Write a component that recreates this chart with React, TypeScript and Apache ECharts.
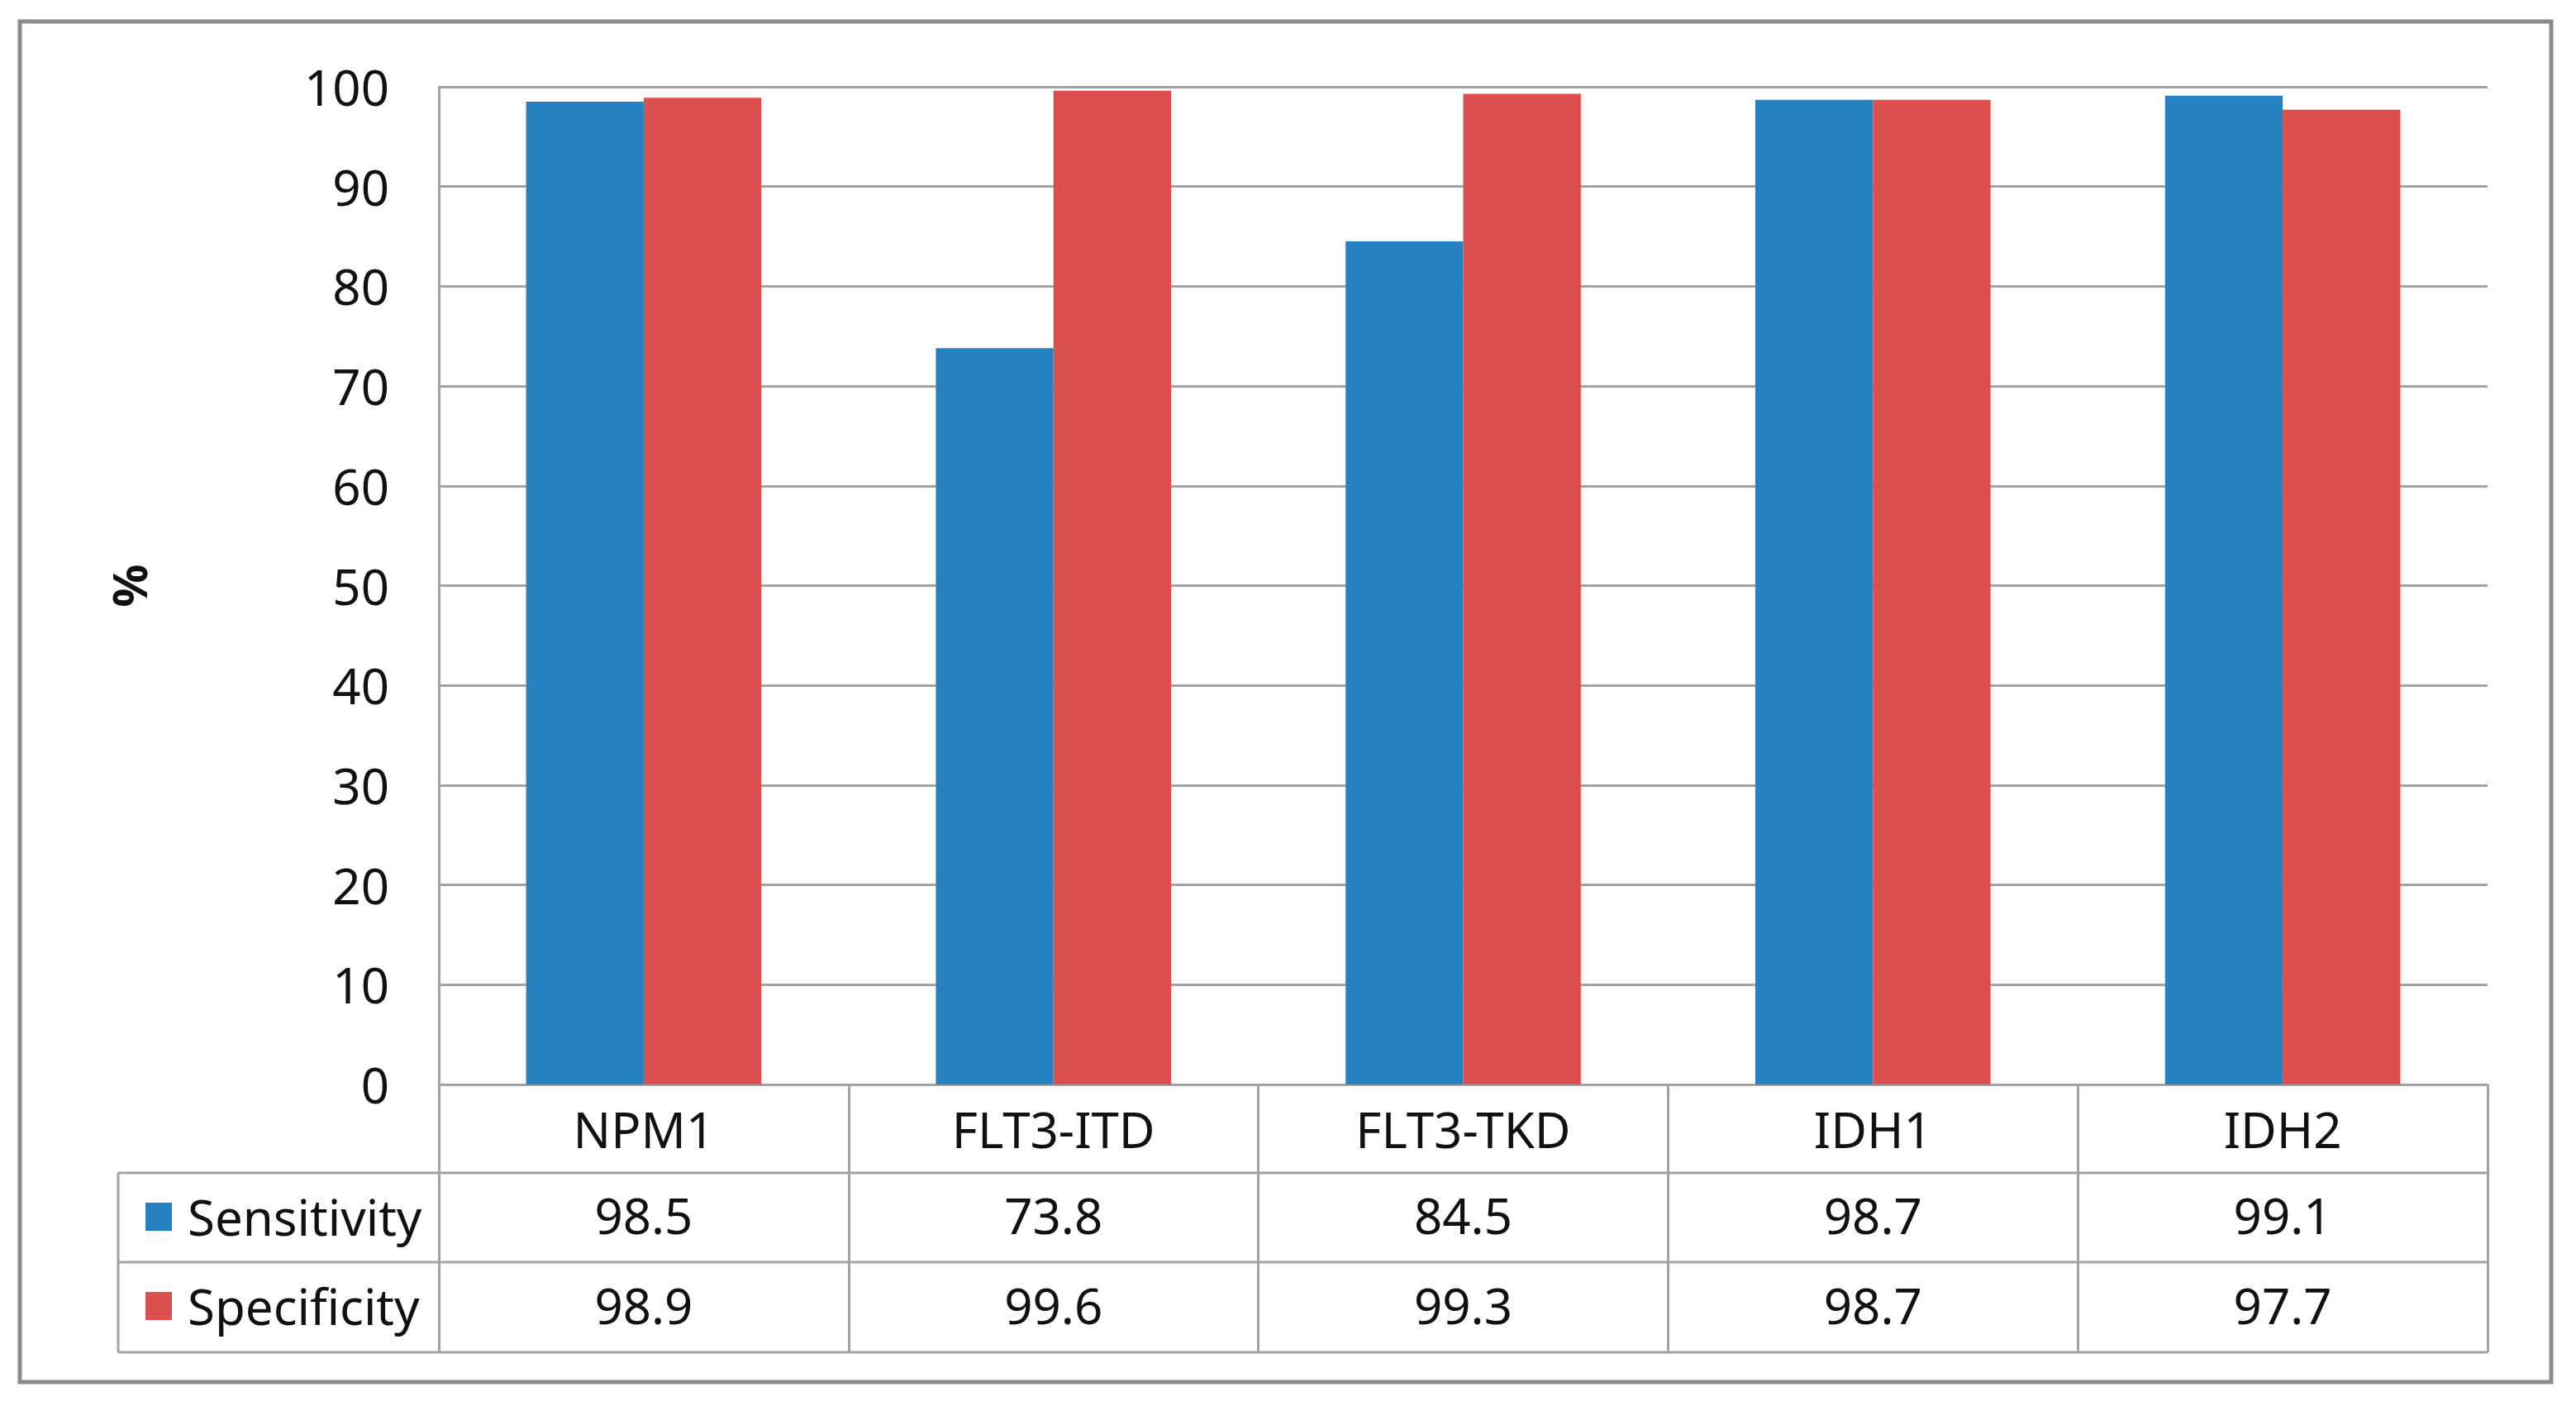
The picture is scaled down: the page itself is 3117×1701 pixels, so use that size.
import React, { useEffect, useRef } from "react";
import * as echarts from "echarts";

const categories = ["NPM1", "FLT3-ITD", "FLT3-TKD", "IDH1", "IDH2"];
const sensitivity = [98.5, 73.8, 84.5, 98.7, 99.1];
const specificity = [98.9, 99.6, 99.3, 98.7, 97.7];
const seriesNames = ["Sensitivity", "Specificity"];
const yMin = 0;
const yMax = 100;
const yInterval = 10;

const W = 3117;
const H = 1701;
const FONT = "'Noto Sans', 'Liberation Sans', sans-serif";
const GRAY = "#a3a3a3";
const BLUE = "#2681c0";
const RED = "#dd4f4e";

export default function App() {
  const ref = useRef<HTMLDivElement>(null);
  useEffect(() => {
    if (!ref.current) return;
    const chart = echarts.init(ref.current, undefined, { renderer: "svg" });
    const gridLeft = 531, gridRight = 3010, gridTop = 105, gridBottom = 1312;
    const row1 = 1419, row2 = 1527, row3 = 1636, tableLeft = 143;
    const txt = { color: "#111", fontFamily: FONT, fontSize: 60 };
    const hAxis = (values: number[], margin: number) => ({
      type: "category",
      data: categories,
      position: "bottom",
      axisLine: { show: false },
      axisTick: { show: false },
      splitLine: { show: false },
      axisLabel: {
        ...txt,
        margin,
        verticalAlign: "middle",
        interval: 0,
        formatter: (_v: string, i: number) => values[i].toFixed(1),
      },
    });
    chart.setOption({
      animation: false,
      backgroundColor: "#fff",
      grid: {
        left: gridLeft,
        right: W - gridRight,
        top: gridTop,
        bottom: H - gridBottom,
        containLabel: false,
      },
      legend: [
        {
          data: [seriesNames[0]],
          left: 171,
          top: 1437,
          icon: "rect",
          itemWidth: 32,
          itemHeight: 34,
          textStyle: { ...txt, lineHeight: 60, padding: [0, 0, 0, 14] },
          selectedMode: false,
        },
        {
          data: [seriesNames[1]],
          left: 171,
          top: 1545,
          icon: "rect",
          itemWidth: 32,
          itemHeight: 34,
          textStyle: { ...txt, lineHeight: 60, padding: [0, 0, 0, 14] },
          selectedMode: false,
        },
      ],
      xAxis: [
        {
          type: "category",
          data: categories,
          position: "bottom",
          axisLine: { show: true, lineStyle: { color: GRAY, width: 3 } },
          axisTick: {
            show: true,
            length: row3 - gridBottom,
            inside: false,
            lineStyle: { color: GRAY, width: 3 },
          },
          axisLabel: { ...txt, margin: 54, verticalAlign: "middle", interval: 0 },
        },
        hAxis(sensitivity, (row1 + row2) / 2 - gridBottom - 3),
        hAxis(specificity, (row2 + row3) / 2 - gridBottom - 3),
      ],
      yAxis: {
        type: "value",
        min: yMin,
        max: yMax,
        interval: yInterval,
        name: "%",
        nameLocation: "middle",
        nameRotate: 90,
        nameGap: 347,
        nameTextStyle: { ...txt, fontWeight: "bold", fontSize: 58 },
        axisLine: { show: true, lineStyle: { color: GRAY, width: 3 } },
        axisTick: { show: false },
        splitLine: { show: true, lineStyle: { color: GRAY, width: 3 } },
        axisLabel: { ...txt, margin: 60 },
      },
      series: [
        {
          name: seriesNames[0],
          type: "bar",
          data: sensitivity,
          itemStyle: { color: BLUE },
          barGap: "0%",
          barCategoryGap: "42.6%",
        },
        {
          name: seriesNames[1],
          type: "bar",
          data: specificity,
          itemStyle: { color: RED },
          barGap: "0%",
          barCategoryGap: "42.6%",
        },
      ],
      graphic: [
        {
          type: "rect",
          shape: { x: 24, y: 26, width: 3063, height: 1646 },
          style: { fill: "none", stroke: "#8a8a8a", lineWidth: 5 },
          silent: true,
        },
        ...[row1, row2, row3].map((y) => ({
          type: "line",
          shape: { x1: tableLeft, y1: y, x2: gridRight, y2: y },
          style: { stroke: GRAY, lineWidth: 3 },
          silent: true,
        })),
        {
          type: "line",
          shape: { x1: tableLeft, y1: row1, x2: tableLeft, y2: row3 },
          style: { stroke: GRAY, lineWidth: 3 },
          silent: true,
        },
      ],
    });
    return () => chart.dispose();
  }, []);
  return (
    <div
      ref={ref}
      style={{ position: "fixed", left: 0, top: 0, width: W, height: H }}
    />
  );
}
